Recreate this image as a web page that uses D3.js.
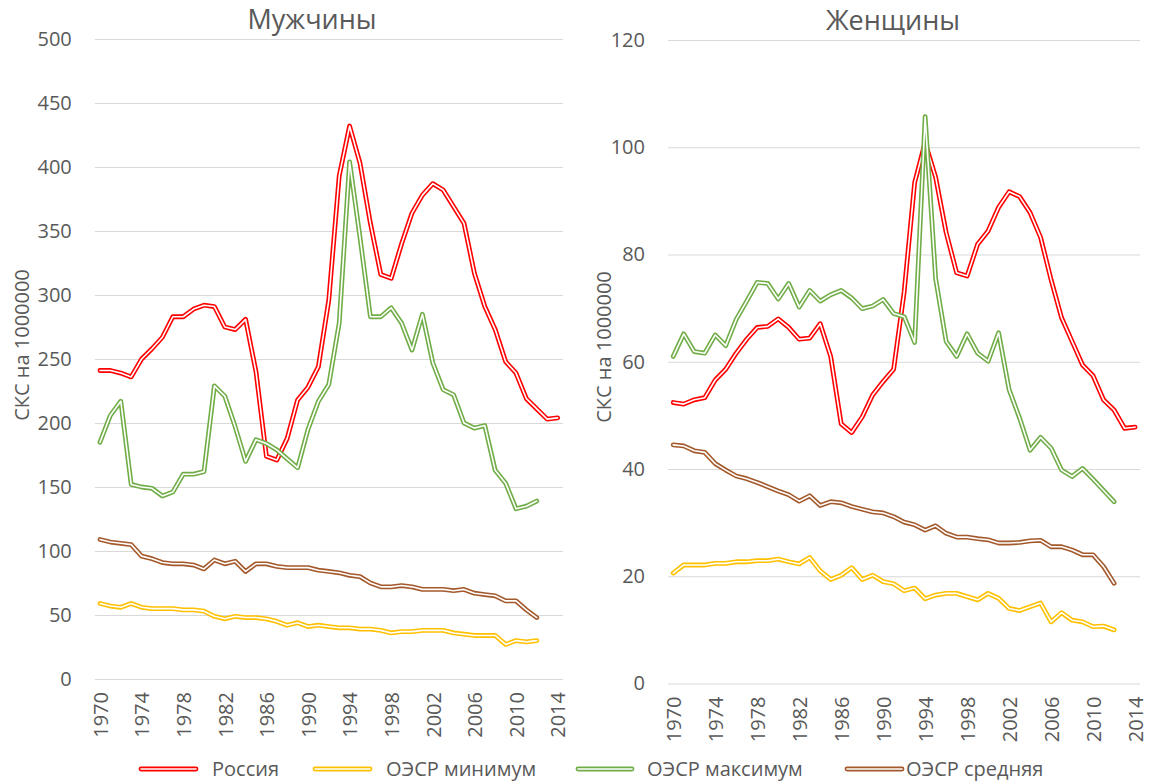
<!DOCTYPE html>
<html><head><meta charset="utf-8">
<script src="https://cdn.jsdelivr.net/npm/d3@7"></script>
<style>
html,body{margin:0;padding:0;background:#fff;}
svg text{font-family:"Open Sans","Noto Sans",sans-serif;fill:#595959;}
</style></head>
<body><svg id="c" width="1151" height="784"></svg>
<script>
const years = [1970,1971,1972,1973,1974,1975,1976,1977,1978,1979,1980,1981,1982,1983,1984,1985,1986,1987,1988,1989,1990,1991,1992,1993,1994,1995,1996,1997,1998,1999,2000,2001,2002,2003,2004,2005,2006,2007,2008,2009,2010,2011,2012,2013,2014];
const yearTicks = [1970,1974,1978,1982,1986,1990,1994,1998,2002,2006,2010,2014];
const menTicks = [0,50,100,150,200,250,300,350,400,450,500];
const womenTicks = [0,20,40,60,80,100,120];
const seriesNames = ["Россия","ОЭСР минимум","ОЭСР максимум","ОЭСР средняя"];
const seriesColors = ["#FF0000","#FFC000","#70AD47","#A3592B"];

// Мужчины
const menRussia = [241,241,239,236,250,258,267,283,283,289,292,291,275,273,281,240,174,171,188,218,228,244,296,393,432,403,356,316,313,340,364,378,387,382,369,356,317,291,273,248,239,219,211,203,204];
const menMin = [59,57,56,59,56,55,55,55,54,54,53,49,47,49,48,48,47,45,42,44,41,42,41,40,40,39,39,38,36,37,37,38,38,38,36,35,34,34,34,27,30,29,30];
const menMax = [185,206,217,152,150,149,143,146,160,160,162,229,221,197,170,187,184,179,172,165,195,217,230,278,404,345,283,283,290,278,257,285,247,226,222,200,196,198,163,153,133,135,139];
const menMean = [109,107,106,105,96,94,91,90,90,89,86,93,90,92,84,90,90,88,87,87,87,85,84,83,81,80,75,72,72,73,72,70,70,70,69,70,67,66,65,61,61,54,48];

// Женщины
const womenRussia = [52.4,52.1,52.9,53.3,56.6,58.6,61.6,64.2,66.4,66.6,68.0,66.4,64.2,64.4,67.1,61.0,48.4,46.8,49.7,53.8,56.3,58.6,73.0,93.4,100.9,94.4,84.1,76.6,76.0,81.9,84.4,88.8,91.7,90.8,87.8,83.2,75.3,68.2,63.8,59.4,57.4,52.9,51.0,47.6,47.8];
const womenMin = [20.6,22.1,22.1,22.1,22.4,22.4,22.7,22.7,22.9,22.9,23.2,22.7,22.3,23.5,21.0,19.4,20.2,21.6,19.4,20.2,19.0,18.6,17.3,17.8,15.8,16.5,16.8,16.8,16.2,15.6,16.8,15.9,14.0,13.6,14.3,15.0,11.5,13.2,11.8,11.5,10.6,10.7,10.0];
const womenMax = [61.0,65.2,61.9,61.6,65.0,63.0,67.9,71.3,74.8,74.6,71.7,74.6,70.2,73.3,71.3,72.5,73.3,71.9,69.9,70.4,71.6,69.0,68.4,63.6,105.7,75.5,63.8,61.0,65.2,61.6,60.1,65.4,54.8,49.5,43.5,45.9,43.9,39.8,38.6,40.1,38.1,36.0,33.9];
const womenMean = [44.5,44.3,43.4,43.1,41.0,39.8,38.7,38.2,37.5,36.7,35.9,35.2,34.0,35.0,33.2,33.9,33.7,33.0,32.5,32.0,31.8,31.1,30.1,29.6,28.6,29.4,28.0,27.3,27.3,27.0,26.8,26.2,26.2,26.3,26.6,26.7,25.5,25.5,24.9,24.0,24.0,21.8,18.7];

const yTitle = "СКС на 1000000";

const svg = d3.select("#c");

const panels = [
  {title:"Мужчины", titleX:312, titleY:29, x0:94.8, x1:562.8, yTop:39, yBot:679, ticks:menTicks,
   series:[menRussia,menMin,menMax,menMean], ylabX:22, ylabY:345},
  {title:"Женщины", titleX:893, titleY:30, x0:668, x1:1140.3, yTop:40, yBot:683.5, ticks:womenTicks,
   series:[womenRussia,womenMin,womenMax,womenMean], ylabX:604, ylabY:347}
];

function doubleLine(g, d, color){
  g.append("path").attr("d", d).attr("fill","none").attr("stroke", color)
    .attr("stroke-width", 4.8).attr("stroke-linejoin","round").attr("stroke-linecap","round");
  g.append("path").attr("d", d).attr("fill","none").attr("stroke", "#fff")
    .attr("stroke-width", 1.6).attr("stroke-linejoin","round").attr("stroke-linecap","round");
}

panels.forEach(p => {
  const x = d3.scalePoint().domain(years).range([p.x0, p.x1]).padding(0.5);
  const yMax = p.ticks[p.ticks.length-1];
  const y = d3.scaleLinear().domain([0, yMax]).range([p.yBot, p.yTop]);

  const ya = svg.append("g").attr("transform", `translate(${p.x0},0)`)
    .call(d3.axisLeft(y).tickValues(p.ticks).tickSize(-(p.x1 - p.x0)).tickPadding(23).tickFormat(d3.format("d")));
  ya.select(".domain").remove();
  ya.selectAll(".tick line").attr("stroke", "#d9d9d9").attr("stroke-width", 1);
  ya.selectAll(".tick text").attr("font-size", 20).style("fill","#595959")
    .attr("font-family", "'Open Sans'");

  const xa = svg.append("g").attr("transform", `translate(0,${p.yBot})`)
    .call(d3.axisBottom(x).tickValues(yearTicks).tickSize(0));
  xa.select(".domain").remove();
  xa.selectAll(".tick text").attr("font-size", 20).style("fill","#595959")
    .attr("font-family", "'Open Sans'")
    .attr("transform","rotate(-90)").attr("text-anchor","end")
    .attr("x", -13).attr("y", 0).attr("dy", "0.36em");

  svg.append("text").attr("x", p.titleX).attr("y", p.titleY).attr("text-anchor","middle")
    .attr("font-size", 27).text(p.title);

  svg.append("text").attr("transform", `translate(${p.ylabX},${p.ylabY}) rotate(-90)`)
    .attr("text-anchor","middle").attr("dy","0.35em").attr("font-size", 20).text(yTitle);

  p.series.forEach((vals, i) => {
    const pts = vals.map((v, j) => [years[j], v]);
    const line = d3.line().x(d => x(d[0])).y(d => y(d[1]));
    doubleLine(svg.append("g"), line(pts), seriesColors[i]);
  });
});

const legendPos = [
  {sx:141, ex:196, tx:212},
  {sx:315, ex:370, tx:386},
  {sx:578, ex:632, tx:647},
  {sx:847, ex:902, tx:906}
];
const ly = 769;
seriesNames.forEach((name, i) => {
  const lp = legendPos[i];
  const g = svg.append("g");
  doubleLine(g, d3.line()([[lp.sx, ly],[lp.ex, ly]]), seriesColors[i]);
  svg.append("text").attr("x", lp.tx).attr("y", ly).attr("dy","0.35em")
    .attr("font-size", 20).text(name);
});
</script>
</body></html>
